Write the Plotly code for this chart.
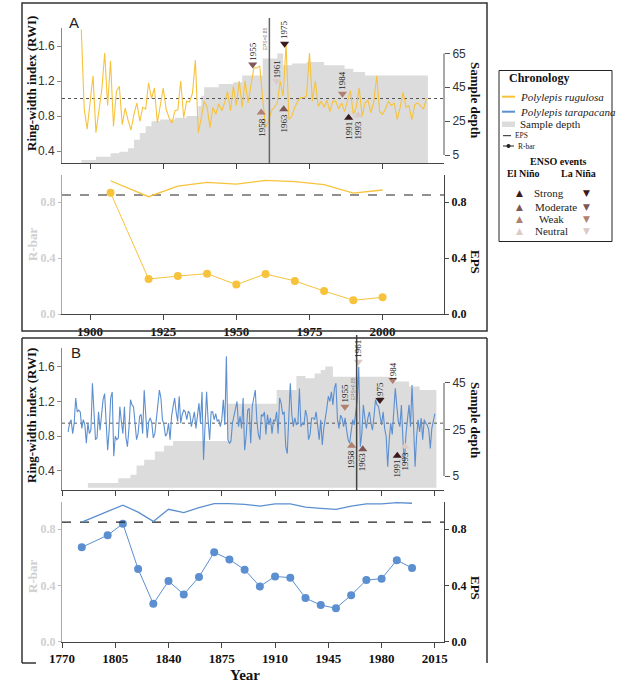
import plotly.graph_objects as go

W, H = 633, 685

# ---------------- data ----------------
# Panel A : Polylepis rugulosa
rwi_A_start = 1897
rwi_A = [1.79, 0.88, 0.65, 1.00, 1.26, 0.61, 0.86, 1.10, 1.52, 0.92,
         1.43, 0.68, 1.08, 1.14, 0.70, 0.89, 0.75, 0.64, 0.82, 0.95,
         0.74, 0.90, 0.88, 1.18, 1.00, 1.12, 0.72, 0.92, 1.12, 0.88,
         0.78, 0.72, 0.86, 0.87, 1.20, 0.78, 0.97, 0.96, 1.06, 1.44,
         0.61, 0.78, 0.97, 0.90, 0.67, 0.90, 0.82, 0.94, 0.86, 0.95,
         1.08, 0.86, 1.14, 0.92, 1.20, 0.90, 1.20, 0.95, 1.16, 1.35,
         1.35, 1.37, 1.00, 0.67, 0.74, 0.86, 0.90, 0.95, 1.20, 1.03,
         1.62, 0.76, 0.80, 0.90, 0.97, 1.01, 1.01, 1.03, 1.52, 0.97,
         1.20, 0.91, 0.97, 0.90, 0.98, 0.85, 0.97, 0.97, 0.88, 0.95,
         0.85, 0.98, 1.09, 0.82, 0.90, 1.12, 0.80, 0.95, 0.98, 0.84,
         0.96, 1.26, 0.85, 0.82, 0.88, 0.97, 0.92, 0.95, 0.76, 0.90,
         1.07, 0.90, 0.92, 0.76, 0.93, 0.95, 0.91, 0.88, 1.00]
depth_A_years = [1897, 1902, 1907, 1910, 1913, 1915, 1917, 1919, 1921, 1924,
                 1929, 1933, 1937, 1938, 1939, 1944, 1949, 1952, 1959, 1964,
                 1966, 1969, 1974, 1980, 1987, 1990, 1994, 2015.5]
depth_A = [2, 4, 6, 7, 9, 14, 18, 22, 25, 26,
           27, 28, 34, 40, 45, 47, 48, 52, 62, 65,
           58, 59, 60, 58, 56, 54, 52, 52]
rbar_A_years = [1907, 1920, 1930, 1940, 1950, 1960, 1970, 1980, 1990, 2000]
rbar_A = [0.866, 0.25, 0.271, 0.288, 0.21, 0.286, 0.236, 0.164, 0.098, 0.119]
eps_A = [0.952, 0.838, 0.914, 0.94, 0.928, 0.955, 0.945, 0.924, 0.864, 0.886]
eps_cut_A = 1961.3

# Panel B : Polylepis tarapacana
rwi_B_start = 1774
rwi_B = [0.85, 0.95, 0.99, 0.83, 0.95, 1.24, 1.08, 1.10, 1.08, 0.89,
         0.99, 0.93, 0.72, 0.95, 0.83, 0.87, 1.41, 1.03, 0.76, 0.78,
         1.08, 0.87, 1.10, 1.22, 1.29, 0.95, 0.64, 0.87, 1.24, 1.31,
         0.57, 0.80, 0.76, 0.78, 1.14, 0.97, 0.83, 1.14, 0.78, 0.68,
         0.89, 1.22, 1.16, 1.14, 0.97, 0.76, 0.83, 1.03, 1.05, 0.83,
         1.33, 0.99, 0.78, 0.97, 1.01, 0.95, 0.78, 0.83, 0.99, 1.14,
         1.33, 1.24, 0.99, 0.93, 0.80, 0.83, 0.95, 0.76, 1.03, 1.14,
         1.24, 1.08, 0.97, 1.26, 0.95, 1.05, 1.10, 1.08, 0.99, 1.09,
         1.06, 0.91, 1.02,
         1.08, 0.89, 1.03, 1.18, 0.95, 1.31, 0.53, 0.99, 1.31, 0.99,
         0.76, 1.08, 1.08, 0.99, 1.06, 0.97, 0.99, 0.91, 0.99, 1.22,
         0.93, 1.72, 0.76, 0.72, 0.74, 0.95, 1.03, 1.10, 1.20, 0.91,
         1.03, 0.89, 1.24, 0.64, 0.80, 1.10, 1.12, 0.72, 1.14, 1.24,
         1.33, 0.99, 0.82, 0.76, 1.05, 1.03, 1.08, 0.82, 1.05, 0.93,
         1.01, 0.83, 0.99, 0.97, 1.08, 0.83, 1.24, 1.18, 1.05, 1.08,
         0.68, 0.60, 0.95, 1.41, 1.05, 0.91, 1.01, 0.93, 0.95, 1.35,
         0.91, 0.95, 0.93, 1.10, 1.03, 0.76, 0.82, 1.01, 1.01, 0.99,
         1.08, 0.89, 0.76, 0.99, 0.70,
         0.89, 0.99, 1.12, 1.26, 1.20, 1.31, 1.16, 1.35, 1.41, 0.99,
         0.89, 1.04, 1.01, 0.91, 1.01, 0.87, 0.76, 0.72, 0.89, 0.99,
         0.93, 1.12, 1.22, 1.60, 0.68, 0.83, 1.16, 1.01, 0.89, 1.01,
         1.08, 0.95, 0.87, 1.03, 1.22, 1.16, 1.14, 1.03, 0.93, 1.08,
         0.89, 0.80, 0.45, 0.76, 0.95, 0.82, 1.14, 1.35, 1.14, 0.97,
         0.91, 1.16, 0.76, 0.49, 0.82, 0.97, 1.16, 0.91, 1.39, 0.93,
         0.45, 0.80, 0.99, 0.85, 1.01, 0.76, 0.99, 0.95, 0.93, 0.87,
         0.66, 0.89, 0.99, 1.06]
depth_B_years = [1787, 1807, 1815, 1819, 1824, 1831, 1837, 1843, 1879, 1911,
                 1924, 1930, 1936, 1940, 1943, 1948, 1987, 1998, 2005, 2016]
depth_B = [2, 4, 5.5, 9.5, 12, 15.5, 18, 20, 36, 42,
           48, 47, 49, 50.5, 52, 47.7, 45.6, 43.5, 42, 42]
rbar_B_years = [1783, 1800, 1810, 1820, 1830, 1840, 1850, 1860, 1870, 1880, 1890,
                1900, 1910, 1920, 1930, 1940, 1950, 1960, 1970, 1980, 1990, 2000]
rbar_B = [0.671, 0.757, 0.839, 0.517, 0.269, 0.431, 0.336, 0.46, 0.636, 0.584, 0.512,
          0.393, 0.464, 0.455, 0.31, 0.26, 0.238, 0.331, 0.438, 0.448, 0.579, 0.524]
eps_B = [0.85, 0.929, 0.971, 0.921, 0.855, 0.941, 0.917, 0.953, 0.981, 0.981, 0.976,
         0.964, 0.979, 0.979, 0.957, 0.948, 0.941, 0.964, 0.979, 0.979, 0.988, 0.984]
eps_cut_B = 1963.6

eps_threshold = 0.85
mean_A = 1.0
mean_B = 0.95

# ENSO events (label, phase, strength)
enso_years = [1955, 1958, 1961, 1963, 1975, 1984, 1991, 1993]
enso_phase = ["LN", "EN", "LN", "EN", "LN", "LN", "EN", "EN"]
enso_strength_A = ["Moderate", "Weak", "Neutral", "Moderate", "Strong", "Weak", "Strong", "Neutral"]
enso_strength_B = ["Weak", "Weak", "Neutral", "Moderate", "Strong", "Weak", "Strong", "Neutral"]
# placement of the event markers/labels on the chronology plots
mark_x_A = [1955.6, 1958.5, 1963.8, 1966.2, 1966.5, 1986.3, 1988.4, 1991.6]
mark_y_A = [1.39, 0.84, 1.20, 0.876, 1.627, 1.055, 0.781, 0.808]
lab_y_A = [1.543, 0.667, 1.33, 0.724, 1.79, 1.208, 0.629, 0.636]
mark_x_B = [1955.9, 1960.3, 1964.7, 1967.6, 1978.9, 1987.3, 1990.3, 1995.4]
mark_y_B = [1.14, 0.69, 1.658, 0.651, 1.218, 1.447, 0.574, 0.682]
lab_y_B = [1.302, 0.536, 1.81, 0.509, 1.325, 1.55, 0.432, 0.509]

xticks_A = [1900, 1925, 1950, 1975, 2000]
xticks_B = [1770, 1805, 1840, 1875, 1910, 1945, 1980, 2015]

# ---------------- styles ----------------
YEL = "#f7c33c"
BLU = "#5b8fd0"
GREY_AREA = "#dcdcdc"
STR_COL = {"Strong": "#3b1a1c", "Moderate": "#7f5656", "Weak": "#b08070", "Neutral": "#dccac6"}
SERIF = "Liberation Serif"
SANS = "Liberation Sans"

def px(x):
    return x / W

def py(y):
    return 1 - y / H

XD = [px(62), px(444)]
dom_A1 = [py(163), py(28)]
dom_A2 = [py(314), py(175)]
dom_B1 = [py(490), py(348)]
dom_B2 = [py(641.7), py(502)]
xr_A = [1890.4, 2021]
xr_B = [1770, 2021]

years_A = list(range(rwi_A_start, rwi_A_start + len(rwi_A)))
years_B = list(range(rwi_B_start, rwi_B_start + len(rwi_B)))

fig = go.Figure()

def chron(xa, ya_depth, ya_rwi, dy, dv, yrs, rwi, col, xr, mean, mx, my, ly, strengths):
    fig.add_trace(go.Scatter(x=dy, y=dv, mode="lines", line=dict(width=0, shape="hv"),
                             fill="tozeroy", fillcolor=GREY_AREA, xaxis=xa, yaxis=ya_depth,
                             hoverinfo="skip"))
    fig.add_trace(go.Scatter(x=xr, y=[mean, mean], mode="lines",
                             line=dict(color="#555", width=1, dash="dot"), xaxis=xa, yaxis=ya_rwi))
    fig.add_trace(go.Scatter(x=yrs, y=rwi, mode="lines", line=dict(color=col, width=1.1),
                             xaxis=xa, yaxis=ya_rwi))
    syms = ["triangle-down" if p == "LN" else "triangle-up" for p in enso_phase]
    cols = [STR_COL[s] for s in strengths]
    fig.add_trace(go.Scatter(x=mx, y=my, mode="markers",
                             marker=dict(symbol=syms, color=cols, size=8, line=dict(width=0)),
                             xaxis=xa, yaxis=ya_rwi))
    for i, yr in enumerate(enso_years):
        fig.add_annotation(x=mx[i], y=ly[i], xref=xa, yref=ya_rwi, text=str(yr), showarrow=False,
                           textangle=-90, font=dict(family=SERIF, size=9, color="#222"),
                           xanchor="center", yanchor="middle")

def stats(xa, ya_r, ya_e, yrs, rb, ep, col, xr):
    fig.add_trace(go.Scatter(x=xr, y=[eps_threshold, eps_threshold], mode="lines",
                             line=dict(color="#222", width=1.1, dash="dash"), xaxis=xa, yaxis=ya_e))
    fig.add_trace(go.Scatter(x=yrs, y=ep, mode="lines", line=dict(color=col, width=1.3),
                             xaxis=xa, yaxis=ya_e))
    fig.add_trace(go.Scatter(x=yrs, y=rb, mode="lines+markers", line=dict(color=col, width=1),
                             marker=dict(color=col, size=8), xaxis=xa, yaxis=ya_r))

chron("x", "y", "y2", depth_A_years, depth_A, years_A, rwi_A, YEL, xr_A, mean_A,
      mark_x_A, mark_y_A, lab_y_A, enso_strength_A)
stats("x2", "y3", "y4", rbar_A_years, rbar_A, eps_A, YEL, xr_A)
chron("x3", "y5", "y6", depth_B_years, depth_B, years_B, rwi_B, BLU, xr_B, mean_B,
      mark_x_B, mark_y_B, lab_y_B, enso_strength_B)
stats("x4", "y7", "y8", rbar_B_years, rbar_B, eps_B, BLU, xr_B)

tick_serif_bold = dict(family=SERIF, size=13, color="#111", weight="bold")
tick_serif_bold_r = dict(family=SERIF, size=12, color="#111", weight="bold")

def xax(anchor, xr, tv, labels):
    return dict(domain=XD, range=xr, anchor=anchor, showline=True, linecolor="#444", linewidth=1,
                ticks="outside", ticklen=5, tickcolor="#444", tickvals=tv, automargin=False,
                showticklabels=labels, tickfont=tick_serif_bold, showgrid=False, zeroline=False)

def depth_ax(anchor, dom, rng, tv):
    return dict(domain=dom, range=rng, anchor=anchor, side="right", showline=False,
                ticks="outside", ticklen=5, tickcolor="#555", tickvals=tv, automargin=False,
                tickfont=dict(family=SANS, size=12, color="#333"), showgrid=False, zeroline=False)

def rwi_ax(anchor, over, rng):
    return dict(overlaying=over, anchor=anchor, side="left", range=rng, showline=True,
                linecolor="#888", ticks="outside", ticklen=4, tickcolor="#888", automargin=False,
                tickvals=[0.4, 0.8, 1.2, 1.6], ticktext=["0.4", "0.8", "1.2", "1.6"],
                tickfont=dict(family=SANS, size=12, color="#333"), showgrid=False, zeroline=False)

def rbar_ax(anchor, dom):
    return dict(domain=dom, anchor=anchor, range=[0, 0.993], showline=True, linecolor="#aaa",
                ticks="outside", ticklen=3, tickcolor="#bbb", tickvals=[0, 0.4, 0.8],
                ticktext=["0.0", "0.4", "0.8"], automargin=False,
                tickfont=dict(family=SERIF, size=12, color="#cfcfcf", weight="bold"),
                showgrid=False, zeroline=False)

def eps_ax(anchor, over):
    return dict(overlaying=over, anchor=anchor, side="right", range=[0, 0.993], showline=True,
                linecolor="#444", ticks="outside", ticklen=4, tickcolor="#444", automargin=False,
                tickvals=[0, 0.4, 0.8], ticktext=["0.0", "0.4", "0.8"],
                tickfont=tick_serif_bold_r, showgrid=False, zeroline=False)

fig.update_layout(
    template="none",
    width=W, height=H, margin=dict(l=0, r=0, t=0, b=0, autoexpand=False),
    paper_bgcolor="white", plot_bgcolor="rgba(0,0,0,0)", showlegend=False,
    xaxis=xax("y", xr_A, xticks_A, False),
    xaxis2=xax("y3", xr_A, xticks_A, True),
    xaxis3=xax("y5", xr_B, xticks_B, False),
    xaxis4=xax("y7", xr_B, xticks_B, True),
    yaxis=depth_ax("x", dom_A1, [0.3, 80], [5, 25, 45, 65]),
    yaxis2=rwi_ax("x", "y", [0.263, 1.806]),
    yaxis3=rbar_ax("x2", dom_A2),
    yaxis4=eps_ax("x2", "y3"),
    yaxis5=depth_ax("x3", dom_B1, [-1, 60], [5, 25, 45]),
    yaxis6=rwi_ax("x3", "y5", [0.181, 1.815]),
    yaxis7=rbar_ax("x4", dom_B2),
    yaxis8=eps_ax("x4", "y7"),
)

shapes = []
# right depth axis lines (bracket from lowest to highest tick)
shapes.append(dict(type="line", xref="paper", yref="y", x0=px(444), x1=px(444), y0=5, y1=65,
                   line=dict(color="#555", width=1)))
shapes.append(dict(type="line", xref="paper", yref="y5", x0=px(444), x1=px(444), y0=5, y1=45,
                   line=dict(color="#555", width=1)))
# EPS cut-off vertical lines
shapes.append(dict(type="line", xref="x", yref="paper", x0=eps_cut_A, x1=eps_cut_A,
                   y0=py(163), y1=py(18), line=dict(color="#666", width=1.5)))
shapes.append(dict(type="line", xref="x3", yref="paper", x0=eps_cut_B, x1=eps_cut_B,
                   y0=py(490), y1=py(335), line=dict(color="#444", width=1.5)))
# panel frames
fr = dict(color="#333", width=1.5)
shapes.append(dict(type="rect", xref="paper", yref="paper", x0=px(22), x1=px(487),
                   y0=py(331), y1=py(3), line=fr))
shapes.append(dict(type="line", xref="paper", yref="paper", x0=px(22), x1=px(487),
                   y0=py(338), y1=py(338), line=fr))
shapes.append(dict(type="line", xref="paper", yref="paper", x0=px(22), x1=px(22),
                   y0=py(338), y1=py(663), line=fr))
shapes.append(dict(type="line", xref="paper", yref="paper", x0=px(487), x1=px(487),
                   y0=py(338), y1=py(663), line=fr))
shapes.append(dict(type="line", xref="paper", yref="paper", x0=px(22), x1=px(36),
                   y0=py(663), y1=py(663), line=fr))
# legend box
shapes.append(dict(type="rect", xref="paper", yref="paper", x0=px(499), x1=px(612),
                   y0=py(241.5), y1=py(70.5), line=dict(color="#222", width=1)))
shapes.append(dict(type="line", xref="paper", yref="paper", x0=px(502), x1=px(515),
                   y0=py(96.7), y1=py(96.7), line=dict(color=YEL, width=2)))
shapes.append(dict(type="line", xref="paper", yref="paper", x0=px(502), x1=px(515),
                   y0=py(111.7), y1=py(111.7), line=dict(color=BLU, width=2)))
shapes.append(dict(type="rect", xref="paper", yref="paper", x0=px(502), x1=px(515),
                   y0=py(127), y1=py(121.5), line=dict(width=0), fillcolor=GREY_AREA))
shapes.append(dict(type="line", xref="paper", yref="paper", x0=px(503), x1=px(511),
                   y0=py(135.7), y1=py(135.7), line=dict(color="#222", width=1)))
shapes.append(dict(type="line", xref="paper", yref="paper", x0=px(503), x1=px(514),
                   y0=py(146), y1=py(146), line=dict(color="#222", width=1)))
shapes.append(dict(type="circle", xref="paper", yref="paper", x0=px(506.5), x1=px(510.5),
                   y0=py(148), y1=py(144), line=dict(width=0), fillcolor="#222"))
fig.update_layout(shapes=shapes)

def ann(x, y, text, size=12, color="#111", family=SERIF, angle=0, xanchor="center", bold=False, italic=False):
    t = text
    if bold:
        t = "<b>" + t + "</b>"
    if italic:
        t = "<i>" + t + "</i>"
    fig.add_annotation(x=px(x), y=py(y), xref="paper", yref="paper", text=t, showarrow=False,
                       textangle=angle, xanchor=xanchor, yanchor="middle",
                       font=dict(family=family, size=size, color=color))

# panel letters
ann(74, 22.5, "A", 15, "#222", SANS)
ann(76, 352.5, "B", 15, "#222", SANS)
# axis titles
ann(31, 84, "Ring-width index (RWI)", 13, "#111", SERIF, -90, bold=True)
ann(31, 416, "Ring-width index (RWI)", 13, "#111", SERIF, -90, bold=True)
ann(476, 100, "Sample depth", 13, "#111", SERIF, 90, bold=True)
ann(476, 420, "Sample depth", 13, "#111", SERIF, 90, bold=True)
ann(32, 245, "R-bar", 13, "#cfcfcf", SERIF, -90, bold=True)
ann(32, 577, "R-bar", 13, "#cfcfcf", SERIF, -90, bold=True)
ann(476, 262, "EPS", 13, "#111", SERIF, 90, bold=True)
ann(476, 588, "EPS", 13, "#111", SERIF, 90, bold=True)
ann(245, 675, "Year", 15, "#111", SERIF, bold=True)
# tiny EPS=0.85 labels
fig.add_annotation(x=eps_cut_A - 1.4, y=1.68, xref="x", yref="y2", text="EPS=0.85", showarrow=False,
                   textangle=-90, font=dict(family=SANS, size=5, color="#777"))
fig.add_annotation(x=eps_cut_B - 1.9, y=1.35, xref="x3", yref="y6", text="EPS=0.85", showarrow=False,
                   textangle=-90, font=dict(family=SANS, size=5, color="#777"))

# legend texts
ann(507, 78, "Chronology", 12, "#111", SERIF, xanchor="left", bold=True)
ann(518, 96.7, "Polylepis rugulosa", 11, "#222", SERIF, xanchor="left", italic=True)
ann(518, 111.7, "Polylepis tarapacana", 11, "#222", SERIF, xanchor="left", italic=True)
ann(518, 124, "Sample depth", 11, "#222", SERIF, xanchor="left")
ann(513, 135.7, "EPS", 7.5, "#222", SERIF, xanchor="left")
ann(516, 146, "R-bar", 7.5, "#222", SERIF, xanchor="left")
ann(558.5, 161.7, "ENSO events", 10, "#111", SERIF, bold=True)
ann(523, 173.3, "El Niño", 10, "#111", SERIF, bold=True)
ann(578, 173.3, "La Niña", 10, "#111", SERIF, bold=True)
leg_rows = [("Strong", 192.7, 549), ("Moderate", 206.7, 555.7), ("Weak", 219.3, 551.7), ("Neutral", 231, 551.7)]
for name, yy, xc in leg_rows:
    ann(519.3, yy, "▲", 9, STR_COL[name], "DejaVu Sans")
    ann(586, yy, "▼", 9, STR_COL[name], "DejaVu Sans")
    ann(xc, yy, name, 11, "#222", SERIF)

fig.write_html("out.html", config={"displayModeBar": False},
               post_script="document.body.style.margin='0px';document.body.style.overflow='hidden';")
